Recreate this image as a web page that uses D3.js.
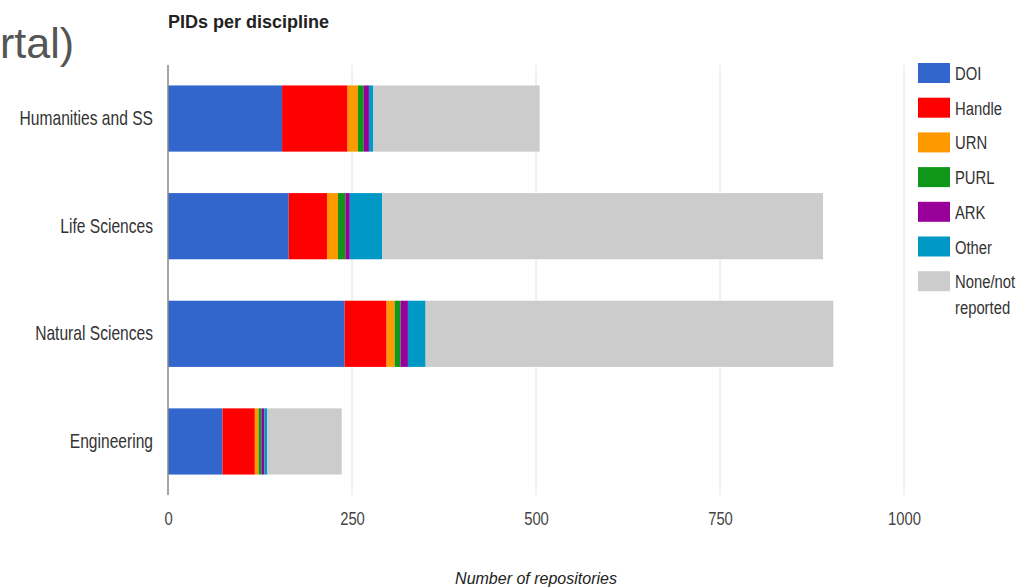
<!DOCTYPE html>
<html>
<head>
<meta charset="utf-8">
<script src="https://cdn.jsdelivr.net/npm/d3@7"></script>
<style>
body { margin: 0; background: #fff; }
svg { font-family: "Liberation Sans", Arial, sans-serif; }
</style>
</head>
<body>
<script>
var categories = ['Humanities and SS', 'Life Sciences', 'Natural Sciences', 'Engineering'],
	seriesNames = ['DOI', 'Handle', 'URN', 'PURL', 'ARK', 'Other', 'None/not reported'],
	doi = [155, 164, 240, 74],
	handle = [89, 52, 57, 44],
	urn = [14, 15, 11, 5],
	purl = [8, 10, 8, 4],
	ark = [7, 6, 10, 4],
	other = [6, 44, 24, 4],
	none = [226, 599, 554, 101],
	xTicks = [0, 250, 500, 750, 1000];

var colors = ['#3366cc', '#ff0000', '#ff9900', '#109618', '#990099', '#0099c6', '#cccccc'];

var rows = categories.map(function(c, i) {
	return {cat: c, DOI: doi[i], Handle: handle[i], URN: urn[i], PURL: purl[i], ARK: ark[i], Other: other[i], 'None/not reported': none[i]};
});

var W = 1030, H = 588,
	plot = {left: 168, right: 904, top: 65, bottom: 495},
	squash = 0.78; // the source picture is squeezed sideways

var svg = d3.select('body').append('svg').attr('width', W).attr('height', H);

var x = d3.scaleLinear().domain([0, 1000]).range([plot.left, plot.right]);
var y = d3.scaleBand().domain(categories).range([plot.top, plot.bottom]).paddingInner(0.385).paddingOuter(0.19);
var color = d3.scaleOrdinal().domain(seriesNames).range(colors);

// leftover slide title
svg.append('text').attr('x', 0).attr('y', 58)
	.attr('font-size', 43).attr('fill', '#555').text('rtal)');

svg.append('text').attr('x', 168).attr('y', 28).attr('font-size', 18).attr('font-weight', 'bold')
	.attr('fill', '#222').text('PIDs per discipline');

// grid
svg.append('g').selectAll('line').data(xTicks.slice(1)).join('line')
	.attr('x1', function(d) { return x(d); }).attr('x2', function(d) { return x(d); })
	.attr('y1', plot.top).attr('y2', plot.bottom)
	.attr('stroke', '#e2e2e2').attr('stroke-width', 1);

var stack = d3.stack().keys(seriesNames)(rows);

svg.append('g').selectAll('g').data(stack).join('g')
	.attr('fill', function(d) { return color(d.key); })
	.selectAll('rect').data(function(d) { return d; }).join('rect')
	.attr('x', function(d) { return x(d[0]); })
	.attr('width', function(d) { return x(d[1]) - x(d[0]); })
	.attr('y', function(d) { return y(d.data.cat); })
	.attr('height', y.bandwidth());

// baseline
svg.append('line').attr('x1', x(0)).attr('x2', x(0)).attr('y1', plot.top).attr('y2', plot.bottom)
	.attr('stroke', '#888').attr('stroke-width', 1.5);

// x axis labels
var xAxis = d3.axisBottom(x).tickValues(xTicks).tickFormat(d3.format('d')).tickSize(0).tickPadding(0);
var gx = svg.append('g').attr('transform', 'translate(0,' + (plot.bottom + 16) + ')').call(xAxis);
gx.select('.domain').remove();
gx.selectAll('text').attr('font-size', 19).attr('fill', '#444').attr('font-family', null)
	.attr('transform', 'scale(' + squash + ',1)');

// y axis labels
var yAxis = d3.axisLeft(y).tickSize(0).tickPadding(15 / squash);
var gy = svg.append('g').attr('transform', 'translate(' + plot.left + ',0)').call(yAxis);
gy.select('.domain').remove();
gy.selectAll('text').attr('font-size', 20).attr('fill', '#333').attr('font-family', null)
	.attr('transform', 'scale(' + squash + ',1)');

svg.append('text').attr('x', 536).attr('y', 584).attr('text-anchor', 'middle')
	.attr('font-size', 16).attr('font-style', 'italic').attr('fill', '#222').text('Number of repositories');

// legend
var legend = svg.append('g').attr('transform', 'translate(918,63)');
var item = legend.selectAll('g').data(seriesNames).join('g')
	.attr('transform', function(d, i) { return 'translate(0,' + (i * 34.7) + ')'; });
item.append('rect').attr('width', 32).attr('height', 20).attr('fill', function(d) { return color(d); });
item.append('text').attr('transform', 'translate(37,17) scale(' + squash + ',1)')
	.attr('font-size', 19).attr('fill', '#333')
	.each(function(d) {
		var parts = d === 'None/not reported' ? ['None/not', 'reported'] : [d];
		var t = d3.select(this);
		parts.forEach(function(p, j) {
			t.append('tspan').attr('x', 0).attr('dy', j ? 26 : 0).text(p);
		});
	});
</script>
</body>
</html>
